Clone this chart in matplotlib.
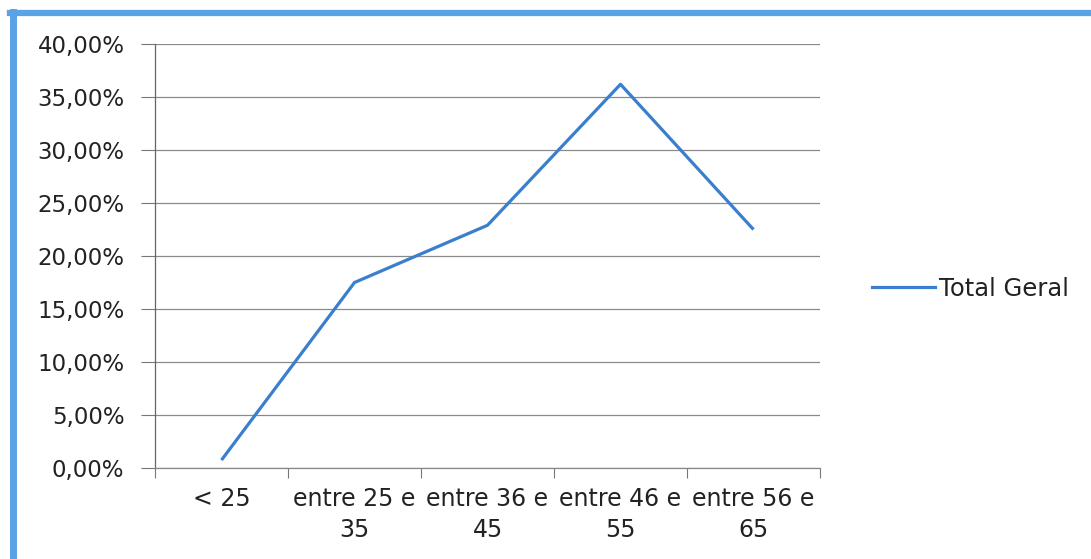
import matplotlib.pyplot as plt
import matplotlib.ticker as ticker
from matplotlib.lines import Line2D

categories = ["< 25", "entre 25 e\n35", "entre 36 e\n45", "entre 46 e\n55", "entre 56 e\n65"]
values = [0.75, 17.5, 22.9, 36.2, 22.5]
series_name = "Total Geral"

W, H = 1091, 559
fig = plt.figure(figsize=(W / 100, H / 100), dpi=100)
plt.rcParams['font.family'] = ['DejaVu Sans']

left, right, top, bottom = 155, 820, 44, 468
ax = fig.add_axes([left / W, 1 - bottom / H, (right - left) / W, (bottom - top) / H])

x = range(len(categories))
ax.plot(x, values, color='#3a7fcd', linewidth=2.3, solid_capstyle='butt')

ax.set_xlim(-0.5, len(categories) - 0.5)
ax.set_ylim(0, 40)
ax.yaxis.set_major_locator(ticker.MultipleLocator(5))
ax.yaxis.set_major_formatter(ticker.FuncFormatter(lambda v, p: f"{v:.2f}%".replace('.', ',')))
ax.set_xticks([i + 0.5 for i in range(-1, len(categories))])
ax.set_xticklabels([])
ax.set_xticks(list(x), minor=True)
ax.set_xticklabels(categories, minor=True, fontsize=17, color='#222222', linespacing=1.35)
ax.tick_params(axis='x', which='minor', length=0, pad=14)
ax.tick_params(axis='x', which='major', length=7, color='#777777', direction='out')
ax.tick_params(axis='y', length=10, color='#777777', labelsize=16.5, labelcolor='#222222', pad=12)

ax.grid(axis='y', color='#8a8a8a', linewidth=0.9)
ax.set_axisbelow(True)
for s in ['top', 'right']:
    ax.spines[s].set_visible(False)
ax.spines['left'].set_color('#666666')
ax.spines['bottom'].set_color('#888888')
ax.spines['left'].set_linewidth(0.9)
ax.spines['bottom'].set_linewidth(0.9)

handle = Line2D([], [], color='#3a7fcd', linewidth=2.3)
fig.legend([handle], [series_name], loc='center left', bbox_to_anchor=(850 / W, 1 - 289 / H),
           frameon=False, fontsize=17.5, handlelength=2.6, handletextpad=0.15, labelcolor='#222222')

# blue scan border (left and top)
fig.add_artist(Line2D([13 / W, 13 / W], [0, 1 - 12 / H], transform=fig.transFigure,
                      color='#5aa2e6', linewidth=5))
fig.add_artist(Line2D([10 / W, 1], [1 - 13 / H, 1 - 13 / H], transform=fig.transFigure,
                      color='#5aa2e6', linewidth=4.5))

fig.savefig('out.png', dpi=100)
